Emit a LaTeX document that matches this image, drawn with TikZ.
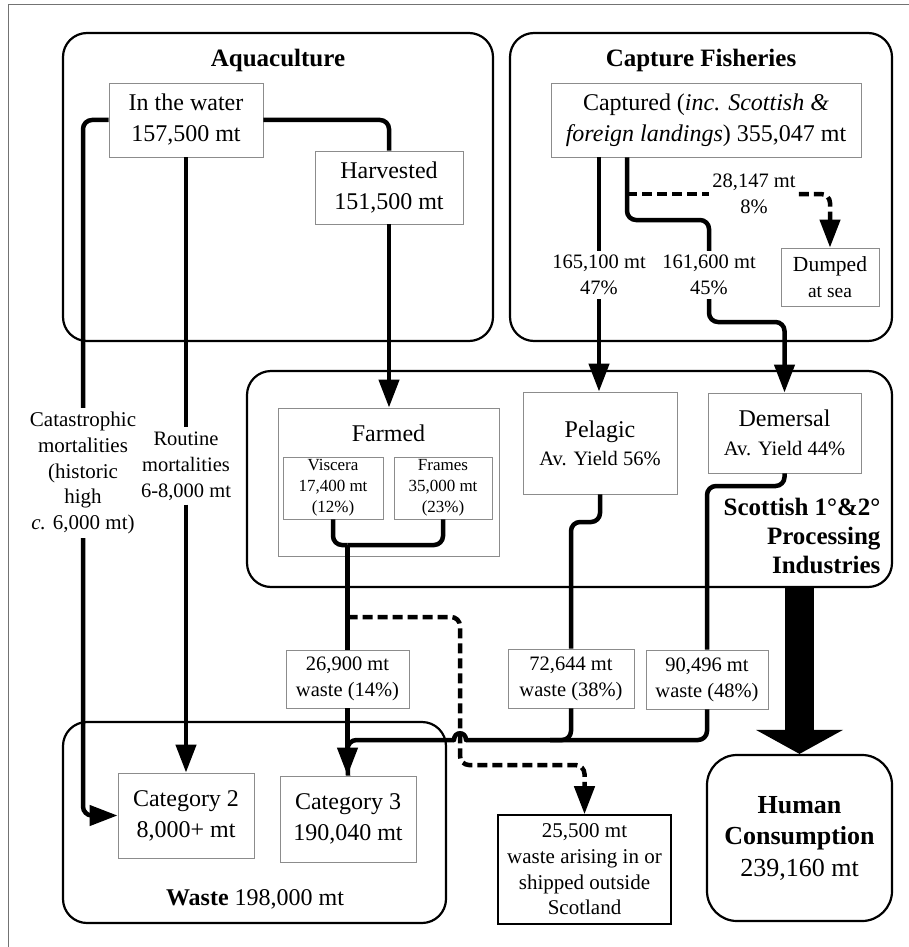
\documentclass[tikz,border=0pt]{standalone}
\usepackage{fontspec}
\setmainfont{Liberation Serif}
\usetikzlibrary{arrows.meta,calc}

\begin{document}
\begin{tikzpicture}[x=1pt,y=-1pt,
  container/.style={draw, line width=2.2pt, rounded corners=24pt, inner sep=0pt},
  inbox/.style={draw=black!45, line width=0.9pt, inner sep=0pt, align=center},
  lab/.style={inner sep=4pt, align=center},
  flow/.style={line width=4.5pt, rounded corners=9pt},
  dashflow/.style={flow, dash pattern=on 10pt off 5pt},
  arrowhd/.style={-{Triangle[length=28pt,width=20pt]}},
  fmain/.style={font=\fontsize{24}{31}\selectfont},
  flab/.style={font=\fontsize{20.5}{26}\selectfont},
  fwaste/.style={font=\fontsize{20.5}{26}\selectfont},
  fsmall/.style={font=\fontsize{17}{21}\selectfont},
  ftitle/.style={font=\fontsize{25}{30}\selectfont\bfseries},
]
\useasboundingbox (0,0) rectangle (909,947);
% frame edges
\draw[black!55, line width=1pt] (8,947) -- (8,5) -- (909,5);

% sector containers
\node[container, minimum width=430pt, minimum height=308pt] (aqua) at (278,187) {};
\node[container, minimum width=382pt, minimum height=308pt] (capt) at (701,187) {};
\node[container, minimum width=645pt, minimum height=216pt] (proc) at (569.5,479) {};
\node[container, minimum width=383pt, minimum height=201pt] (waste) at (254.5,822.5) {};
\node[container, rounded corners=30pt, minimum width=185pt, minimum height=166pt,
      align=center, font=\fontsize{26}{31.5}\selectfont] (human) at (799.5,838)
  {\textbf{Human}\\\textbf{Consumption}\\239,160 mt};

% titles
\node[ftitle] (aquat) at (278,60) {Aquaculture};
\node[ftitle] (captt) at (701,60) {Capture Fisheries};
\node[ftitle, align=right, anchor=east, font=\fontsize{25}{29}\selectfont\bfseries]
  (proct) at (884,536) {Scottish 1°\&2°\\Processing\\Industries};
\node[fmain] (wastet) at (255,899) {\textbf{Waste} 198,000 mt};

% aquaculture
\node[inbox, fmain, minimum width=154pt, minimum height=74pt] (water) at (186,120)
  {In the water\\157,500 mt};
\node[inbox, fmain, minimum width=148pt, minimum height=73pt] (harv) at (389,187.5)
  {Harvested\\151,500 mt};

% capture fisheries
\node[inbox, fmain, minimum width=310pt, minimum height=74pt] (captured) at (706,120)
  {Captured (\textit{inc. Scottish \&}\\\textit{foreign landings}) 355,047 mt};
\node[inbox, minimum width=98pt, minimum height=58pt, font=\fontsize{21.5}{26}\selectfont]
  (dumped) at (830,277) {Dumped\\{\fontsize{19.5}{26}\selectfont at sea}};

% processing
\node[inbox, minimum width=221pt, minimum height=148pt] (farmed) at (388.5,482) {};
\node[fmain] (farmedt) at (388.5,433) {Farmed};
\node[inbox, fsmall, minimum width=100pt, minimum height=62pt] (viscera) at (333,488)
  {Viscera\\17,400 mt\\(12\%)};
\node[inbox, fsmall, minimum width=98pt, minimum height=62pt] (frames) at (443,488)
  {Frames\\35,000 mt\\(23\%)};
\node[inbox, minimum width=154pt, minimum height=102pt, font=\fontsize{24}{28}\selectfont]
  (pelagic) at (600,443) {Pelagic\\{\fontsize{20.5}{28}\selectfont Av. Yield 56\%}};
\node[inbox, minimum width=153pt, minimum height=80pt, font=\fontsize{24}{29}\selectfont]
  (demersal) at (784.5,433) {Demersal\\{\fontsize{20.5}{29}\selectfont Av. Yield 44\%}};

% waste streams
\node[inbox, fwaste, minimum width=123pt, minimum height=58pt] (w1) at (347.5,679)
  {26,900 mt\\waste (14\%)};
\node[inbox, fwaste, minimum width=126pt, minimum height=59pt] (w2) at (571,678.5)
  {72,644 mt\\waste (38\%)};
\node[inbox, fwaste, minimum width=122pt, minimum height=59pt] (w3) at (707,679.5)
  {90,496 mt\\waste (48\%)};
\node[inbox, fmain, minimum width=136pt, minimum height=85pt] (cat2) at (186,815.5)
  {Category 2\\8,000+ mt};
\node[inbox, fmain, minimum width=136pt, minimum height=86pt] (cat3) at (348,819)
  {Category 3\\190,040 mt};
\node[draw, line width=1.6pt, inner sep=0pt, align=center, font=\fontsize{21}{25.7}\selectfont,
      minimum width=173pt, minimum height=109pt] (outside) at (584.5,869.5)
  {25,500 mt\\waste arising in or\\shipped outside\\Scotland};

% flow labels
\node[lab, font=\fontsize{21}{25.7}\selectfont] (catlab) at (83,473)
  {Catastrophic\\mortalities\\(historic\\high\\\textit{c.} 6,000 mt)};
\node[lab, flab] (routlab) at (186,466) {Routine\\mortalities\\6-8,000 mt};
\node[lab, flab] (lab165) at (599,275) {165,100 mt\\47\%};
\node[lab, flab] (lab161) at (709,275) {161,600 mt\\45\%};
\node[lab, fwaste, inner xsep=3pt] (lab28) at (754,194) {28,147 mt\\8\%};

% aquaculture flows
\draw[flow] (water.west) -| (catlab.north);
\draw[flow, arrowhd] (catlab.south) |- (cat2.west);
\draw[flow] (water.east) -| (harv.north);
\draw[flow] (water.south) -- (routlab.north);
\draw[flow, arrowhd] (routlab.south) -- (cat2.north);
\draw[flow, arrowhd] (harv.south) -- (harv.south |- farmed.north);

% capture flows
\coordinate (split) at (627,0);
\draw[flow] (lab165 |- captured.south) -- (lab165.north);
\draw[flow, arrowhd] (lab165.south) -- (lab165.south |- pelagic.north);
\draw[flow] (split |- captured.south) -- (627,220) -| (lab161.north);
\draw[flow, arrowhd] (lab161.south) -- (709,322) -| (demersal.north);
\draw[dashflow] (split |- lab28) -- (lab28.west);
\draw[dashflow, arrowhd] (lab28.east) -| (dumped.north);

% farmed by-products
\coordinate (merge) at (347.5,545);
\draw[flow] (viscera.south) |- (merge);
\draw[flow] (frames.south) |- (merge);
\draw[flow] (merge) -- (w1.north);
\draw[flow, arrowhd] (w1.south) -- (w1.south |- cat3.north);
\draw[dashflow, arrowhd] (347.5,617) -- (460,617) -- (460,765) -| (outside.north);

% processing waste
\draw[flow] (pelagic.south) -- (600,522) -| (w2.north);
\draw[flow] (demersal.south) -- (784.5,486) -| (w3.north);
\draw[flow] (w2.south) |- (550,740);
\draw[flow] (w3.south) |- (466,740);
\draw[line width=4.5pt, line cap=round] (466,740) .. controls (466,731) and (454,731) .. (454,740);
\draw[flow] (454,740) -- (347.5,740) -- (cat3.north);

% product to consumers
\draw[line width=29pt, -{Triangle[length=24pt,width=86pt]}] (human.north |- proc.south) -- (human.north);
\end{tikzpicture}
\end{document}
